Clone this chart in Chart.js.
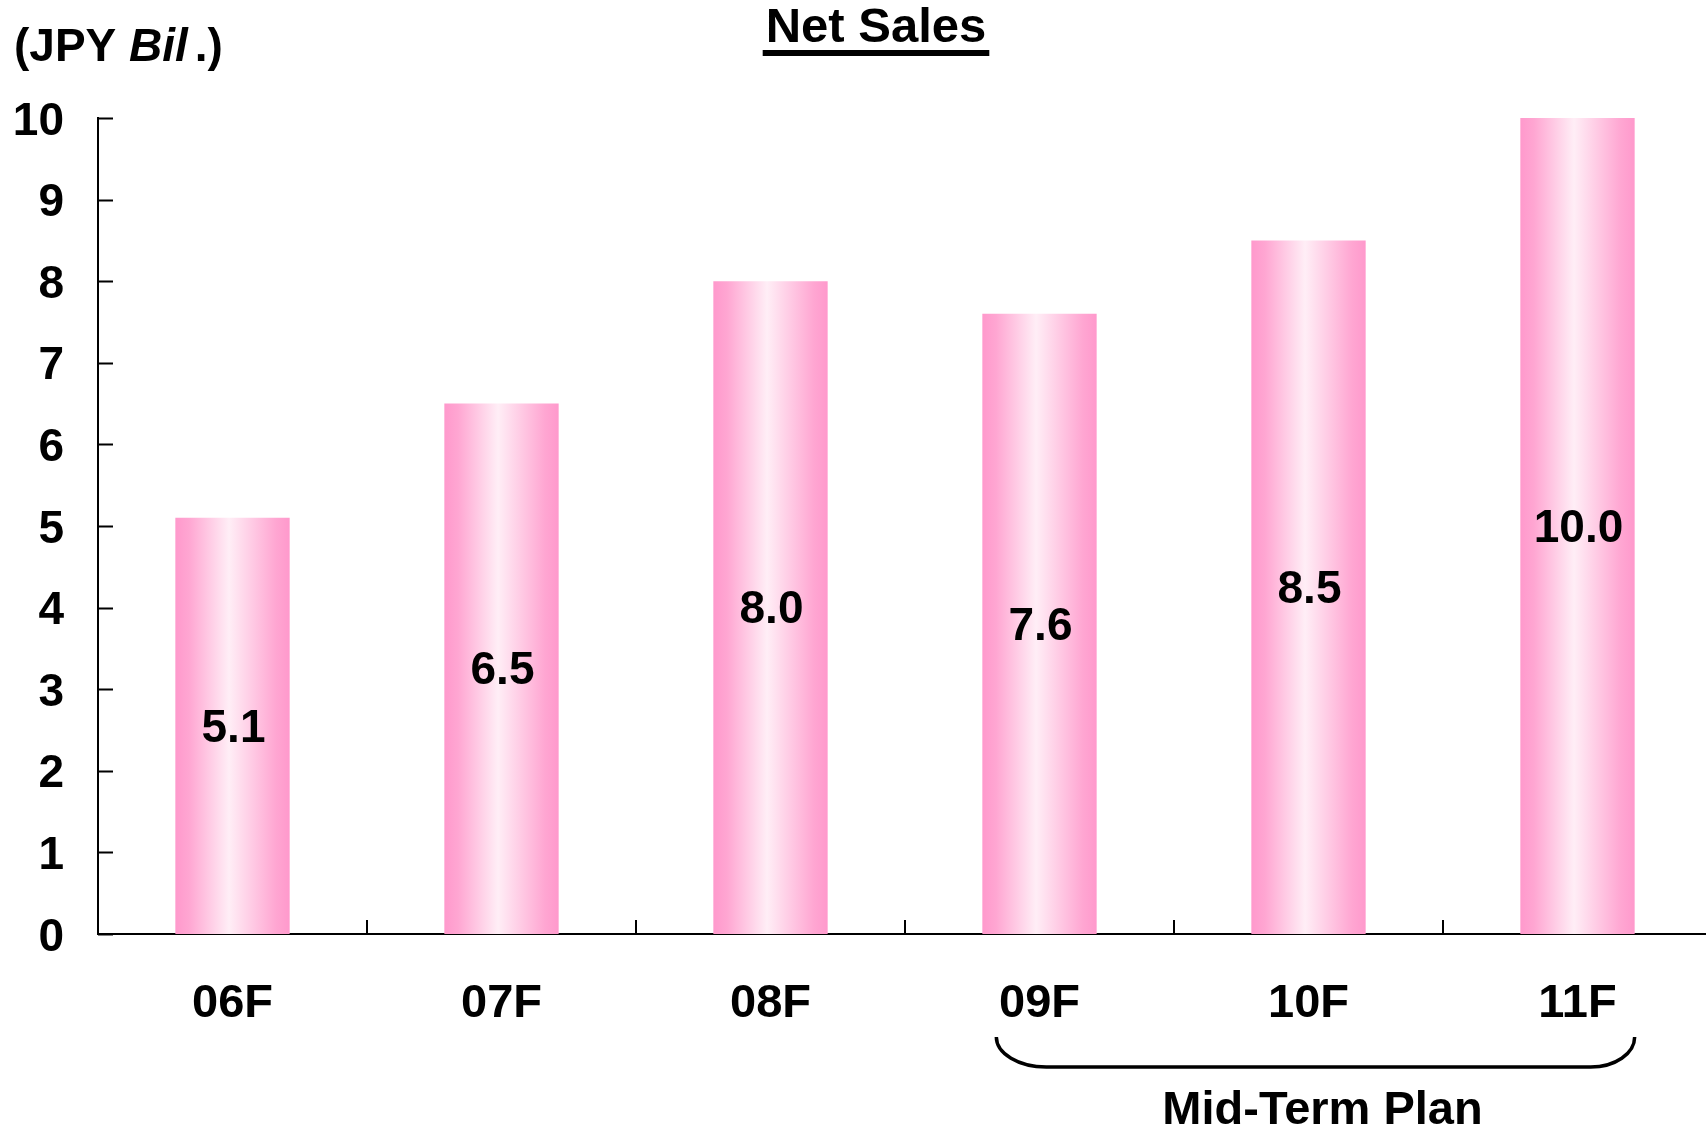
<!DOCTYPE html>
<html>
<head>
<meta charset="utf-8">
<title>Net Sales</title>
<script src="https://cdn.jsdelivr.net/npm/chart.js@4/dist/chart.umd.min.js"></script>
<style>
  html, body { margin: 0; padding: 0; background: #fff; overflow: hidden; }
  /* the x axis runs a few pixels past the right edge of the page */
  #wrap { width: 1712px; height: 1128px; position: relative; }
</style>
</head>
<body>
<div id="wrap"><canvas id="chartNetSales"></canvas></div>
<script>
// Net sales by fiscal year (JPY billions)
const categories = ['06F', '07F', '08F', '09F', '10F', '11F'];
const netSales = [5.1, 6.5, 8.0, 7.6, 8.5, 10.0];
const yTickValues = [0, 1, 2, 3, 4, 5, 6, 7, 8, 9, 10];
const planYears = ['09F', '11F'];   // first and last year of the mid-term plan

const FONT = '"Liberation Sans", Arial, Helvetica, sans-serif';
const BAR_PCT = 0.425;

// pink "cylinder" shading across each bar
function barGradient(ctx) {
    const chart = ctx.chart;
    const xs = chart.scales.x;
    if (!chart.chartArea || !xs) return '#ff99cc';
    const cx = xs.getPixelForValue(ctx.dataIndex);
    const half = (xs.width / categories.length) * BAR_PCT / 2;
    const g = chart.ctx.createLinearGradient(cx - half, 0, cx + half, 0);
    g.addColorStop(0, '#ff99cc');
    g.addColorStop(0.12, '#ffa6d2');
    g.addColorStop(0.47, '#ffeef6');
    g.addColorStop(0.88, '#ffa6d2');
    g.addColorStop(1, '#ff99cc');
    return g;
}

// tick marks pointing into the plot, value labels, title, unit and plan brace
const decorations = {
    id: 'decorations',
    afterDatasetsDraw(chart) {
        const c = chart.ctx;
        const xs = chart.scales.x, ys = chart.scales.y;
        const area = chart.chartArea;
        c.save();

        // value labels in the middle of each bar
        c.fillStyle = '#000';
        c.font = 'bold 46px ' + FONT;
        c.textAlign = 'center';
        c.textBaseline = 'middle';
        chart.getDatasetMeta(0).data.forEach((bar, i) => {
            c.fillText(netSales[i].toFixed(1), bar.x + 1, (bar.y + bar.base) / 2 + 3);
        });

        // inner ticks
        c.strokeStyle = '#000';
        c.lineWidth = 2;
        c.beginPath();
        yTickValues.forEach(v => {
            const y = Math.round(ys.getPixelForValue(v)) + 0.5;
            c.moveTo(area.left, y);
            c.lineTo(area.left + 15, y);
        });
        const step = xs.width / categories.length;
        for (let i = 1; i < categories.length; i++) {
            const x = Math.round(area.left + i * step);
            c.moveTo(x, area.bottom);
            c.lineTo(x, area.bottom - 14);
        }
        c.stroke();

        // title with underline
        c.textAlign = 'center';
        c.textBaseline = 'alphabetic';
        c.font = 'bold 49px ' + FONT;
        const title = 'Net Sales';
        const tx = 876;
        const tw = c.measureText(title).width;
        c.fillText(title, tx, 42);
        c.fillRect(tx - tw / 2 - 3, 50, tw + 6, 6);

        // unit label: (JPY Bil.)
        c.textAlign = 'left';
        let ux = 14;
        c.font = 'bold 46px ' + FONT;
        c.fillText('(JPY ', ux, 61);
        ux += c.measureText('(JPY ').width;
        c.font = 'italic bold 46px ' + FONT;
        c.fillText('Bil', ux, 61);
        ux += c.measureText('Bil').width + 7;
        c.font = 'bold 46px ' + FONT;
        c.fillText('.)', ux, 61);

        // brace under the mid-term plan years
        const half = step * BAR_PCT / 2;
        const bl = xs.getPixelForValue(categories.indexOf(planYears[0])) - half + 14;
        const br = xs.getPixelForValue(categories.indexOf(planYears[1])) + half;
        const top = 1037, ry = 30, rxl = 50, rxr = 44;
        c.lineWidth = 3.5;
        c.beginPath();
        c.ellipse(bl + rxl, top, rxl, ry, 0, Math.PI, Math.PI / 2, true);
        c.lineTo(br - rxr, top + ry);
        c.ellipse(br - rxr, top, rxr, ry, 0, Math.PI / 2, 0, true);
        c.stroke();

        c.textAlign = 'center';
        c.textBaseline = 'middle';
        c.font = 'bold 47px ' + FONT;
        c.fillText('Mid-Term Plan', (bl + br) / 2 + 7, 1111);

        c.restore();
    }
};

function initNetSalesChart() {
    const ctx = document.getElementById('chartNetSales').getContext('2d');
    new Chart(ctx, {
        type: 'bar',
        data: {
            labels: categories,
            datasets: [{
                label: 'Net Sales',
                data: netSales,
                backgroundColor: barGradient,
                borderWidth: 0,
                barPercentage: BAR_PCT,
                categoryPercentage: 1.0
            }]
        },
        options: {
            responsive: true,
            maintainAspectRatio: false,
            animation: false,
            layout: { padding: { top: 118, right: 0, left: 0, bottom: 0 } },
            plugins: {
                legend: { display: false },
                title: { display: false },
                tooltip: { enabled: false }
            },
            scales: {
                x: {
                    grid: { display: false },
                    border: { display: true, color: '#000', width: 2 },
                    ticks: {
                        color: '#000',
                        font: { family: FONT, size: 47, weight: 'bold' },
                        padding: 34,
                        maxRotation: 0
                    },
                    afterFit: s => { s.height = 194; }
                },
                y: {
                    min: 0,
                    max: 10,
                    grid: { display: false },
                    border: { display: true, color: '#000', width: 2 },
                    afterBuildTicks: s => { s.ticks = yTickValues.map(v => ({ value: v })); },
                    ticks: {
                        color: '#000',
                        font: { family: FONT, size: 46, weight: 'bold' },
                        padding: 26,
                        labelOffset: 4
                    },
                    afterFit: s => { s.width = 98; }
                }
            }
        },
        plugins: [decorations]
    });
}

window.addEventListener('DOMContentLoaded', () => {
    initNetSalesChart();
});
</script>
</body>
</html>
